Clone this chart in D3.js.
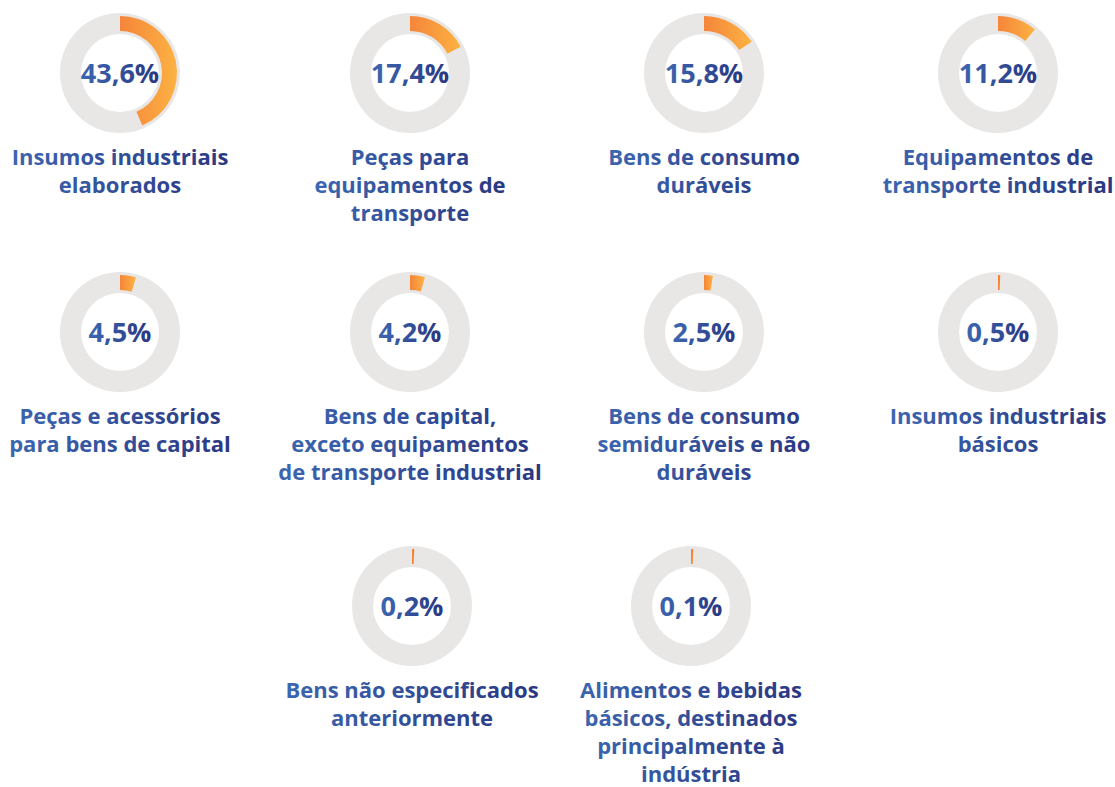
<!DOCTYPE html>
<html>
<head>
<meta charset="utf-8">
<script src="https://cdn.jsdelivr.net/npm/d3@7"></script>
<style>
  html, body { margin: 0; padding: 0; background: #fff; }
  svg { display: block; }
  text { font-family: "Open Sans", sans-serif; font-weight: 700; }
</style>
</head>
<body>
<svg id="chart"></svg>
<script>
// categories, line breaks as in the original
const categories = [
  ["Insumos industriais", "elaborados"],
  ["Peças para", "equipamentos de", "transporte"],
  ["Bens de consumo", "duráveis"],
  ["Equipamentos de", "transporte industrial"],
  ["Peças e acessórios", "para bens de capital"],
  ["Bens de capital,", "exceto equipamentos", "de transporte industrial"],
  ["Bens de consumo", "semiduráveis e não", "duráveis"],
  ["Insumos industriais", "básicos"],
  ["Bens não especificados", "anteriormente"],
  ["Alimentos e bebidas", "básicos, destinados", "principalmente à", "indústria"]
]
const values = [43.6, 17.4, 15.8, 11.2, 4.5, 4.2, 2.5, 0.5, 0.2, 0.1]
const valueLabels = ["43,6%", "17,4%", "15,8%", "11,2%", "4,5%", "4,2%", "2,5%", "0,5%", "0,2%", "0,1%"]

const width = 1115, height = 787;

// layout: x of each slot per row, y of each row
const rowSlots = [[120, 410, 704, 998], [120, 410, 704, 998], [412, 691]]
const rowY = [73, 332, 606]

const svg = d3.select("#chart")
  .attr("width", width)
  .attr("height", height)

const defs = svg.append("defs")
const og = defs.append("linearGradient").attr("id", "orange")
og.append("stop").attr("offset", "0%").attr("stop-color", "#f5853a")
og.append("stop").attr("offset", "100%").attr("stop-color", "#fcb243")
const tg = defs.append("linearGradient").attr("id", "blue")
tg.append("stop").attr("offset", "0%").attr("stop-color", "#3c66b0")
tg.append("stop").attr("offset", "100%").attr("stop-color", "#2a3781")

const angle = d3.scaleLinear().domain([0, 100]).range([0, 2 * Math.PI])
const minAngle = 0.04

const bg = d3.arc().innerRadius(39).outerRadius(60).startAngle(0).endAngle(2 * Math.PI)
const fg = d3.arc().innerRadius(42).outerRadius(57).startAngle(0)

let k = 0
const items = []
rowSlots.forEach((slots, r) => {
  slots.forEach(sx => {
    if (k < values.length) items.push({ v: values[k], i: k, cx: sx, cy: rowY[r] })
    k++
  })
})

const g = svg.selectAll("g.donut")
  .data(items)
  .enter()
  .append("g")
  .attr("class", "donut")
  .attr("transform", d => `translate(${d.cx},${d.cy})`)

g.append("path")
  .attr("d", bg())
  .attr("fill", "#e8e7e6")

g.append("path")
  .attr("d", d => fg({ endAngle: Math.max(angle(d.v), minAngle) }))
  .attr("fill", d => d.v < 1 ? "#f5853a" : "url(#orange)")

g.append("text")
  .attr("text-anchor", "middle")
  .attr("dy", "0.36em")
  .attr("font-size", 27)
  .attr("fill", "url(#blue)")
  .text(d => valueLabels[d.i])

const lbl = g.append("text")
  .attr("text-anchor", "middle")
  .attr("font-size", 22)
  .attr("fill", "url(#blue)")

lbl.selectAll("tspan")
  .data(d => categories[d.i])
  .enter()
  .append("tspan")
  .attr("x", 0)
  .attr("y", (t, j) => 92 + j * 28)
  .text(t => t)
</script>
</body>
</html>
